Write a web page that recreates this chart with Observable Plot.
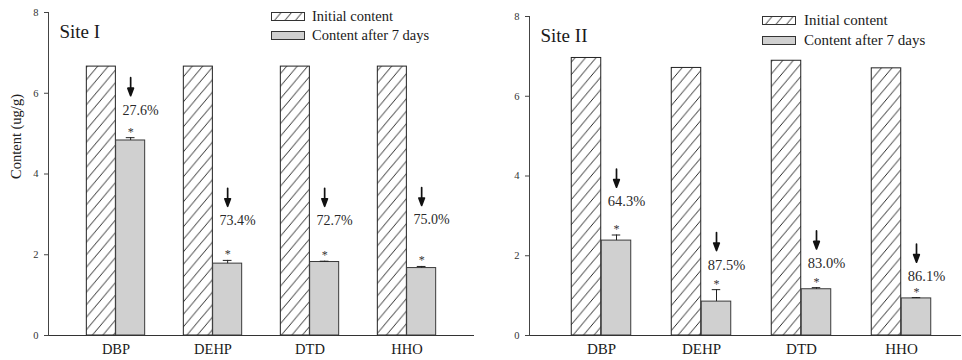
<!DOCTYPE html>
<html><head><meta charset="utf-8">
<script src="https://cdn.jsdelivr.net/npm/d3@7"></script>
<script src="https://cdn.jsdelivr.net/npm/@observablehq/plot@0.6"></script>
<style>
body{margin:0;background:#fff;font-family:"Liberation Serif",serif;color:#1a1a1a;}
#row{display:flex;width:962px;height:360px;overflow:hidden;}
.panel{position:relative;width:481px;height:360px;flex:none;}
.legend{position:absolute;color:#1a1a1a;}
.legend .item{display:flex;align-items:center;white-space:nowrap;}
.legend svg{display:block;}
</style></head><body>
<svg width="0" height="0" style="position:absolute"><defs>
<pattern id="hatch" patternUnits="userSpaceOnUse" width="10.5" height="12.5">
<rect width="10.5" height="12.5" fill="#fff"/>
<path d="M0,12.5 L10.5,0 M-0.9,1.07 L0.9,-1.07 M9.6,13.57 L11.4,11.43" stroke="#111" stroke-width="0.9" fill="none"/>
</pattern></defs></svg>
<div id="row"><div class="panel" id="p1"></div><div class="panel" id="p2"></div></div>
<script>
// ---- data ----
const categories = ["DBP", "DEHP", "DTD", "HHO"];
const seriesNames = ["Initial content", "Content after 7 days"];
const yTicks = [0, 2, 4, 6, 8];
const yLabel = "Content (ug/g)";
const siteTitles = ["Site I", "Site II"];

const siteI_initial = [6.66, 6.66, 6.66, 6.66];
const siteI_after = [4.83, 1.78, 1.82, 1.67];
const siteI_err = [0.07, 0.08, 0.02, 0.04];
const siteI_removal = ["27.6%", "73.4%", "72.7%", "75.0%"];
const siteI_arrowTip = [5.94, 3.20, 3.20, 3.22];

const siteII_initial = [6.96, 6.71, 6.89, 6.70];
const siteII_after = [2.38, 0.85, 1.16, 0.93];
const siteII_err = [0.14, 0.30, 0.04, 0.02];
const siteII_removal = ["64.3%", "87.5%", "83.0%", "86.1%"];
const siteII_arrowTip = [3.72, 2.13, 2.17, 1.84];

function rowsOf(initial, after, err, removal, tip) {
  return categories.map((c, i) => ({
    category: c, initial: initial[i], after: after[i],
    top: after[i] + err[i], removal: removal[i], tip: tip[i]
  }));
}

const W = 481, H = 360, ML = 48;
const arrowShape = {
  draw(ctx, l) {
    ctx.moveTo(0, 0); ctx.lineTo(0, -l + 5);
    ctx.moveTo(-2.8, -l + 7.5); ctx.lineTo(0, -l); ctx.lineTo(2.8, -l + 7.5); ctx.closePath();
  }
};

function makePanel({rows, title, mt, mr, paddingOuter, align, barW, fs, pfs, ylabel}) {
  const rangeW = W - ML - mr;
  const step = rangeW / (categories.length + 2 * paddingOuter);
  const off = barW / 2;
  const inset = (step - barW) / 2;
  return Plot.plot({
    width: W, height: H, marginLeft: ML, marginRight: mr, marginTop: mt, marginBottom: 25,
    style: {fontFamily: "Liberation Serif", background: "transparent", color: "#1a1a1a", overflow: "visible"},
    x: {domain: categories, paddingInner: 0, paddingOuter, align, label: null, axis: null},
    y: {domain: [0, 8], label: null, axis: null},
    marks: [
      Plot.barY(rows, {x: "category", y: "initial", dx: -off, insetLeft: inset, insetRight: inset,
        fill: "url(#hatch)", stroke: "#222", strokeWidth: 1}),
      Plot.barY(rows, {x: "category", y: "after", dx: off, insetLeft: inset, insetRight: inset,
        fill: "#d0d0d0", stroke: "#3a3a3a", strokeWidth: 1}),
      Plot.ruleX(rows, {x: "category", y1: "after", y2: "top", dx: off, stroke: "#222"}),
      Plot.tickY(rows, {x: "category", y: "top", dx: off, insetLeft: step / 2 - 4.5, insetRight: step / 2 - 4.5, stroke: "#222"}),
      Plot.text(rows, {x: "category", y: "top", dx: off, dy: -2, text: () => "*", lineAnchor: "bottom", fontSize: 12, fill: "#333"}),
      Plot.vector(rows, {x: "category", y: "tip", dx: off, length: 18, rotate: 180, anchor: "end",
        shape: arrowShape, fill: "#111", stroke: "#111", strokeWidth: 1.7}),
      Plot.text(rows, {x: "category", y: "tip", dx: off + 10, dy: 19, text: "removal", lineAnchor: "bottom", fontSize: pfs, fill: "#2a2a2a"}),
      Plot.ruleY([0], {stroke: "#333"}),
      Plot.frame({anchor: "left", stroke: "#444"}),
      Plot.axisY({ticks: yTicks, tickSize: 4, tickPadding: 6, fontSize: 10.5, label: null, stroke: "#444", fill: "#333"}),
      Plot.axisX({tickSize: 0, tickPadding: 8, fontSize: fs, label: null, fill: "#1a1a1a"}),
      Plot.text([title], {frameAnchor: "top-left", textAnchor: "start", lineAnchor: "bottom", dx: 11, dy: 25, fontSize: 19, fill: "#1a1a1a"}),
      ylabel ? Plot.text([ylabel], {frameAnchor: "left", rotate: -90, dx: -32, dy: 5, fontSize: fs, fill: "#222"}) : null
    ]
  });
}

function legend(container, {left, top, lh, fs, gap}) {
  const div = document.createElement("div");
  div.className = "legend";
  div.style.left = left + "px"; div.style.top = top + "px";
  div.style.fontSize = fs + "px"; div.style.lineHeight = lh + "px";
  seriesNames.forEach((name, i) => {
    const item = document.createElement("div");
    item.className = "item";
    const fill = i === 0 ? "url(#hatch)" : "#d0d0d0";
    item.innerHTML = `<svg width="34" height="9" style="margin-right:${gap}px"><rect x="0.5" y="0.5" width="33" height="8" fill="${fill}" stroke="#333" stroke-width="1"/></svg><span>${name}</span>`;
    div.appendChild(item);
  });
  container.appendChild(div);
}

const p1 = document.getElementById("p1");
const p2 = document.getElementById("p2");
p1.appendChild(makePanel({
  rows: rowsOf(siteI_initial, siteI_after, siteI_err, siteI_removal, siteI_arrowTip),
  title: siteTitles[0], mt: 12, mr: 7, paddingOuter: 0.19, align: 0.5, barW: 29.3, fs: 14.5, pfs: 14, ylabel: yLabel
}));
legend(p1, {left: 271, top: 7, lh: 19, fs: 14.5, gap: 7});
p2.appendChild(makePanel({
  rows: rowsOf(siteII_initial, siteII_after, siteII_err, siteII_removal, siteII_arrowTip),
  title: siteTitles[1], mt: 16, mr: 1, paddingOuter: 0.149, align: 0.7, barW: 30, fs: 15, pfs: 14.5, ylabel: null
}));
legend(p2, {left: 281, top: 10, lh: 20, fs: 15, gap: 8});
</script>
</body></html>
